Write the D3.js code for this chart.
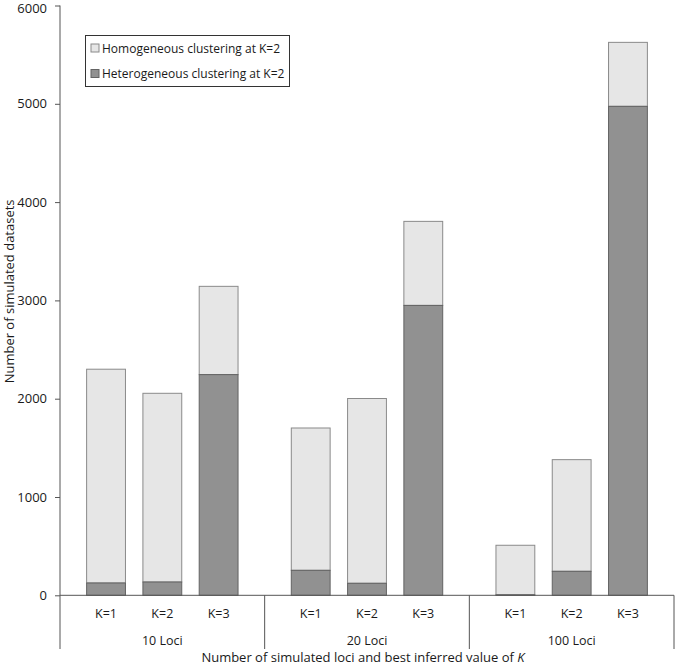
<!DOCTYPE html>
<html>
<head>
<meta charset="utf-8">
<script src="https://cdn.jsdelivr.net/npm/d3@7"></script>
<style>
  body { margin: 0; background: #fff; }
  svg text { font-family: "Open Sans", "Noto Sans", sans-serif; fill: #1a1a1a; }
</style>
</head>
<body>
<svg id="chart" width="675" height="666"></svg>
<script>
// ---- data ----
const groups = ["10 Loci", "20 Loci", "100 Loci"];
const kValues = ["K=1", "K=2", "K=3"];
const heterogeneous = [ // dark, bottom segment
  [125, 135, 2245],
  [254, 122, 2949],
  [5, 244, 4974]
];
const homogeneous = [ // light, top segment
  [2175, 1920, 898],
  [1448, 1880, 855],
  [504, 1136, 651]
];
const yTicks = [0, 1000, 2000, 3000, 4000, 5000, 6000];
const seriesNames = ["Homogeneous clustering at K=2", "Heterogeneous clustering at K=2"];

// ---- layout ----
const svg = d3.select("#chart");
const mLeft = 60, mRight = 674, mTop = 5.5, mBottom = 595.3;

const y = d3.scaleLinear().domain([0, 6000]).range([mBottom, mTop]);
const xGroup = d3.scaleBand().domain(groups).range([mLeft, mRight]).padding(0);
const xK = d3.scaleBand().domain(kValues).range([0, xGroup.bandwidth()])
  .paddingInner(0.31).paddingOuter(0.473);

const lightFill = "#e6e6e6", lightStroke = "#8a8a8a";
const darkFill = "#919191", darkStroke = "#636363";

// bars
const rows = [];
groups.forEach((g, gi) => {
  kValues.forEach((k, ki) => {
    rows.push({g, k, het: heterogeneous[gi][ki], hom: homogeneous[gi][ki]});
  });
});

const barG = svg.append("g");
rows.forEach(d => {
  const x0 = xGroup(d.g) + xK(d.k);
  const w = xK.bandwidth();
  barG.append("rect")
    .attr("x", x0).attr("width", w)
    .attr("y", y(d.het + d.hom)).attr("height", y(d.het) - y(d.het + d.hom))
    .attr("fill", lightFill).attr("stroke", lightStroke).attr("stroke-width", 1);
  barG.append("rect")
    .attr("x", x0).attr("width", w)
    .attr("y", y(d.het)).attr("height", y(0) - y(d.het))
    .attr("fill", darkFill).attr("stroke", darkStroke).attr("stroke-width", 1);
});

// y axis
const yAxis = d3.axisLeft(y).tickValues(yTicks).tickSize(5).tickPadding(8).tickFormat(d3.format("d"));
const ya = svg.append("g").attr("transform", `translate(${mLeft},0)`).call(yAxis);
ya.select(".domain").attr("stroke", "#555").attr("d", `M0,${mTop}V${mBottom}`);
ya.selectAll(".tick line").attr("stroke", "#555");
ya.selectAll(".tick text").style("font-size", "13px").attr("fill", "#1a1a1a");
ya.selectAll(".tick text").filter(d => d === 6000).attr("dy", "0.55em");

// x axis baseline
svg.append("line").attr("x1", mLeft).attr("x2", mRight).attr("y1", mBottom).attr("y2", mBottom)
  .attr("stroke", "#555").attr("stroke-width", 1);

// group separators (multi-level category axis)
const sepBottom = 649;
const seps = groups.map(g => xGroup(g)).concat([mRight]);
svg.append("g").selectAll("line").data(seps).join("line")
  .attr("x1", d => d).attr("x2", d => d).attr("y1", mBottom).attr("y2", sepBottom)
  .attr("stroke", "#555").attr("stroke-width", 1);

// K labels
const kLab = svg.append("g");
rows.forEach(d => {
  kLab.append("text")
    .attr("x", xGroup(d.g) + xK(d.k) + xK.bandwidth() / 2)
    .attr("y", 617.5)
    .attr("text-anchor", "middle")
    .style("font-size", "12.5px")
    .text(d.k);
});
// group labels
svg.append("g").selectAll("text").data(groups).join("text")
  .attr("x", d => xGroup(d) + xGroup.bandwidth() / 2)
  .attr("y", 645)
  .attr("text-anchor", "middle")
  .style("font-size", "12.5px")
  .text(d => d);

// x axis title
const xt = svg.append("text")
  .attr("x", 363).attr("y", 661.5)
  .attr("text-anchor", "middle")
  .style("font-size", "13px");
xt.append("tspan").text("Number of simulated loci and best inferred value of ");
xt.append("tspan").style("font-style", "italic").text("K");

// y axis title
svg.append("text")
  .attr("transform", `translate(13.5,${(mTop + mBottom) / 2 - 9}) rotate(-90)`)
  .attr("text-anchor", "middle")
  .style("font-size", "13px")
  .text("Number of simulated datasets");

// legend
const lg = svg.append("g");
lg.append("rect").attr("x", 85.5).attr("y", 35.5).attr("width", 204).attr("height", 51)
  .attr("fill", "#fff").attr("stroke", "#333").attr("stroke-width", 1);
const legFills = [[lightFill, lightStroke], [darkFill, darkStroke]];
seriesNames.forEach((name, i) => {
  const cy = 48 + i * 25.5;
  lg.append("rect").attr("x", 91).attr("y", cy - 4).attr("width", 8).attr("height", 8)
    .attr("fill", legFills[i][0]).attr("stroke", legFills[i][1]).attr("stroke-width", 1);
  lg.append("text").attr("x", 102).attr("y", cy + 4.5)
    .style("font-size", "12px").text(name);
});
</script>
</body>
</html>
